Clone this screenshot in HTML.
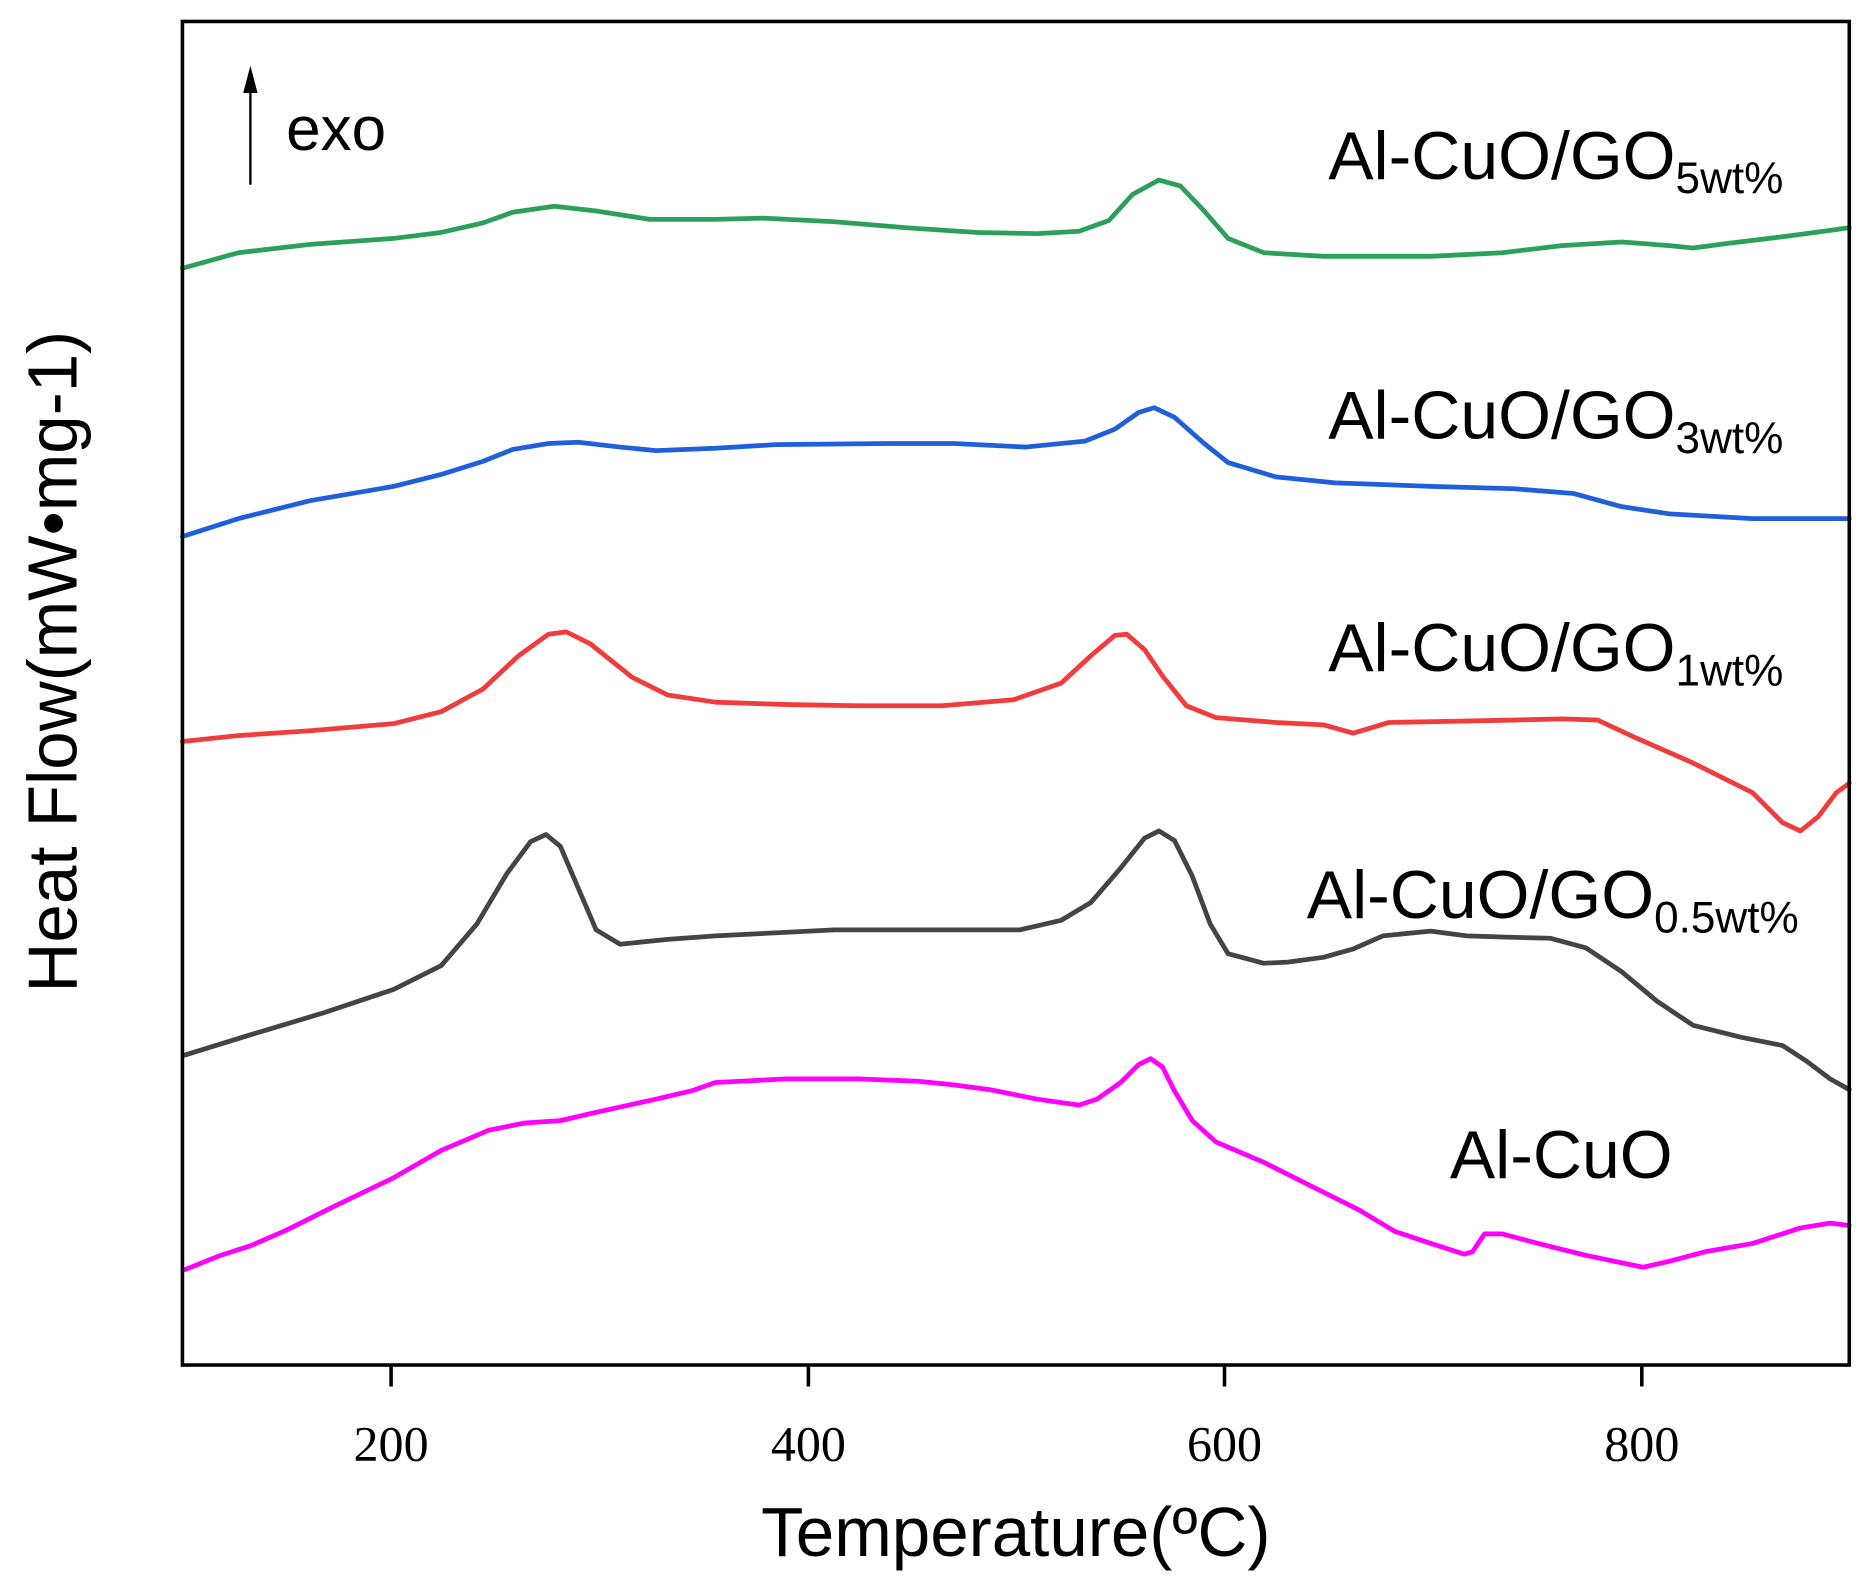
<!DOCTYPE html>
<html><head><meta charset="utf-8"><style>html,body{margin:0;padding:0;background:#fff}svg{display:block}</style></head>
<body>
<svg width="1860" height="1582" viewBox="0 0 1560 1327" preserveAspectRatio="none" xmlns="http://www.w3.org/2000/svg">
<rect width="1560" height="1327" fill="#fff"/>
<g fill="none" stroke-width="4" stroke-linejoin="round" stroke-linecap="round">
<polyline stroke="#2ca05a" points="153,225 200,212 260,205 330,200 370,195 405,187 430,178 465,173 500,177 545,184 600,184 640,183 700,186 760,191 820,195 870,196 905,194 930,185 950,163 972,151 990,156 1010,177 1030,200 1060,212 1110,215 1200,215 1260,212 1310,206 1360,203 1400,206 1420,208 1450,204 1500,198 1551,191"/>
<polyline stroke="#1f5fdc" points="153,450 200,435 260,420 330,408 370,398 405,387 430,377 460,372 485,371 520,375 550,378 600,376 650,373 750,372 800,372 860,375 910,370 935,360 955,346 968,342 985,350 1010,372 1030,388 1070,400 1120,405 1200,408 1270,410 1320,414 1360,425 1400,431 1470,435 1551,435"/>
<polyline stroke="#f03c3c" points="153,622 200,617 260,613 330,607 370,597 405,578 435,550 460,532 475,530 495,540 530,568 560,583 600,589 660,591 720,592 790,592 850,587 890,573 915,550 935,533 945,532 960,545 975,567 995,592 1020,602 1070,606 1110,608 1135,615 1165,606 1220,605 1270,604 1310,603 1340,604 1370,618 1420,640 1470,665 1495,690 1510,697 1525,685 1540,665 1551,657"/>
<polyline stroke="#444" points="155,885 210,868 270,850 330,830 370,810 400,775 425,733 445,706 458,700 470,710 485,745 500,780 520,792 560,788 600,785 700,780 800,780 855,780 890,772 915,757 940,728 960,703 972,697 985,705 1000,735 1015,775 1030,800 1060,808 1080,807 1110,803 1135,796 1160,785 1200,781 1230,785 1260,786 1300,787 1330,795 1360,815 1390,840 1420,860 1460,870 1495,877 1515,890 1535,905 1551,914"/>
<polyline stroke="#ff00ff" points="155,1065 185,1053 210,1045 240,1032 280,1012 330,988 370,965 410,948 440,942 470,940 500,933 550,922 580,915 600,908 660,905 720,905 770,907 800,910 830,914 870,922 905,927 920,922 940,908 955,893 965,888 975,895 985,915 1000,940 1020,958 1060,975 1100,995 1140,1015 1170,1033 1200,1043 1228,1052 1235,1050 1245,1035 1260,1035 1290,1043 1330,1053 1378,1063 1400,1058 1430,1050 1470,1043 1510,1030 1535,1026 1551,1028"/>
</g>
<rect x="153" y="18" width="1398" height="1127" fill="none" stroke="#000" stroke-width="3"/>
<g stroke="#000" stroke-width="3">
<line x1="328" y1="1145" x2="328" y2="1163"/><line x1="678" y1="1145" x2="678" y2="1163"/><line x1="1027" y1="1145" x2="1027" y2="1163"/><line x1="1377" y1="1145" x2="1377" y2="1163"/>
<line x1="210" y1="155" x2="210" y2="68" stroke-width="2"/>
</g>
<polygon points="210,55 204,78 216,78" fill="#000"/>
<g font-family="Liberation Serif, serif" font-size="42" text-anchor="middle" fill="#000">
<text x="328" y="1225">200</text><text x="678" y="1225">400</text><text x="1027" y="1225">600</text><text x="1377" y="1225">800</text>
</g>
<g font-family="Liberation Sans, sans-serif" fill="#000" font-size="57">
<text x="240" y="126" font-size="52">exo</text>
<text x="1114" y="150">Al-CuO/GO<tspan font-size="37" dy="12">5wt%</tspan></text>
<text x="1114" y="368">Al-CuO/GO<tspan font-size="37" dy="12">3wt%</tspan></text>
<text x="1114" y="563">Al-CuO/GO<tspan font-size="37" dy="12">1wt%</tspan></text>
<text x="1096" y="770">Al-CuO/GO<tspan font-size="37" dy="12">0.5wt%</tspan></text>
<text x="1216" y="988">Al-CuO</text>
<text x="852" y="1305" text-anchor="middle" font-size="58">Temperature(ºC)</text>
<text transform="translate(64,555) rotate(-90)" text-anchor="middle" font-size="58">Heat Flow(mW•mg-1)</text>
</g>
</svg>
</body></html>
